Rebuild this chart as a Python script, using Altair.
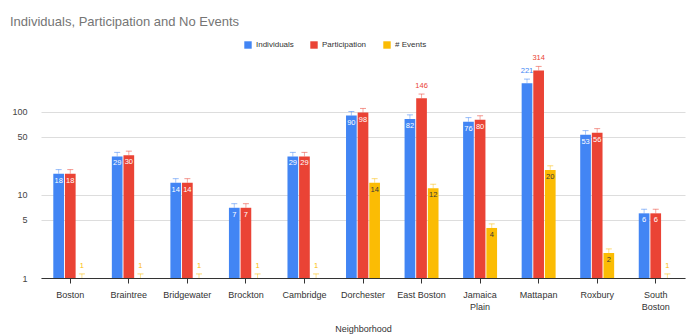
import altair as alt
import pandas as pd

# Neighborhood totals (log-scaled bars)
neighborhoods = ["Boston", "Braintree", "Bridgewater", "Brockton", "Cambridge",
                 "Dorchester", "East Boston", "Jamaica Plain", "Mattapan",
                 "Roxbury", "South Boston"]
individuals = [18, 29, 14, 7, 29, 90, 82, 76, 221, 53, 6]
participation = [18, 30, 14, 7, 29, 98, 146, 80, 314, 56, 6]
events = [1, 1, 1, 1, 1, 14, 12, 4, 20, 2, 1]

series = ["Individuals", "Participation", "# Events"]
colors = ["#4285F4", "#EA4335", "#FBBC04"]
y_ticks = [1, 5, 10, 50, 100]

rows = []
for name, vals in zip(series, [individuals, participation, events]):
    for hood, v in zip(neighborhoods, vals):
        rows.append({"Neighborhood": hood, "Series": name, "Value": v})
df = pd.DataFrame(rows)

FONT = "Liberation Sans"

x_enc = alt.X(
    "Neighborhood:N",
    sort=neighborhoods,
    scale=alt.Scale(paddingInner=0.42, paddingOuter=0.21),
    title="Neighborhood",
    axis=alt.Axis(
        labelAngle=0,
        labelFontSize=9,
        labelColor="#333333",
        labelPadding=7,
        labelExpr="datum.label == 'Jamaica Plain' ? ['Jamaica', 'Plain'] : "
                  "datum.label == 'South Boston' ? ['South', 'Boston'] : datum.label",
        labelLineHeight=12,
        domainColor="#333333",
        domainWidth=1,
        tickColor="#333333",
        tickSize=5,
        grid=False,
        titleFontSize=9,
        titleFontWeight="normal",
        titleColor="#333333",
        titlePadding=13,
    ),
)
xo_enc = alt.XOffset("Series:N", sort=series, scale=alt.Scale(paddingInner=0.08))
y_scale = alt.Scale(type="log", domain=[1, 420], nice=False)
color_scale = alt.Scale(domain=series, range=colors)

y_axis = alt.Axis(
    values=y_ticks,
    labelFontSize=9,
    labelColor="#444444",
    ticks=False,
    domain=False,
    labelPadding=14,
    gridColor="#dddddd",
)

base = alt.Chart(df).encode(x=x_enc, xOffset=xo_enc).transform_calculate(
    base="1", hi="datum.Value * 1.12"
)

bars = base.mark_bar().encode(
    y=alt.Y("Value:Q", scale=y_scale, title=None, axis=y_axis),
    y2="base:Q",
    color=alt.Color(
        "Series:N",
        sort=series,
        scale=color_scale,
        legend=alt.Legend(
            title=None,
            orient="none",
            direction="horizontal",
            legendX=203,
            legendY=-19,
            symbolType="square",
            symbolSize=55,
            symbolStrokeWidth=0,
            labelFontSize=8,
            labelColor="#333333",
            columnPadding=16,
        ),
    ),
)

# error whiskers above each bar
whisk = base.mark_rule(strokeWidth=1, opacity=0.45, clip=True).encode(
    y=alt.Y("Value:Q", scale=y_scale, title=None, axis=y_axis),
    y2="hi:Q",
    color=alt.Color("Series:N", sort=series, scale=color_scale, legend=None),
)
caps = base.mark_tick(orient="horizontal", size=6, thickness=1, opacity=0.55, clip=True).encode(
    y=alt.Y("hi:Q", scale=y_scale, title=None, axis=y_axis),
    color=alt.Color("Series:N", sort=series, scale=color_scale, legend=None),
)

labels_in = base.transform_filter(
    "datum.Value > 1 && datum.Value < 100"
).transform_calculate(
    tcol="datum.Series == '# Events' ? '#3a3a3a' : '#ffffff'"
).mark_text(baseline="top", dy=3, fontSize=7.5, font=FONT).encode(
    y=alt.Y("Value:Q", scale=y_scale, title=None, axis=y_axis),
    text="Value:Q",
    color=alt.Color("tcol:N", scale=None),
)

labels_out = base.transform_filter(
    "datum.Value <= 1 || datum.Value >= 100"
).mark_text(baseline="bottom", dy=-8, fontSize=7.5, font=FONT).encode(
    y=alt.Y("Value:Q", scale=y_scale, title=None, axis=y_axis),
    text="Value:Q",
    color=alt.Color("Series:N", sort=series, scale=color_scale, legend=None),
)

chart = alt.layer(bars, whisk, caps, labels_in, labels_out).properties(
    width=644,
    height=218,
    background="white",
    autosize=alt.AutoSizeParams(type="none"),
    padding={"left": 41, "top": 60, "right": 7, "bottom": 56},
    title=alt.TitleParams(
        "Individuals, Participation and No Events",
        anchor="start",
        frame="group",
        fontSize=13,
        fontWeight="normal",
        color="#757575",
        font=FONT,
        dx=-31,
        offset=12,
    ),
).configure(
    font=FONT
).configure_view(
    strokeWidth=0
)

chart.save("out.html", embed_options={"renderer": "svg", "actions": False})
